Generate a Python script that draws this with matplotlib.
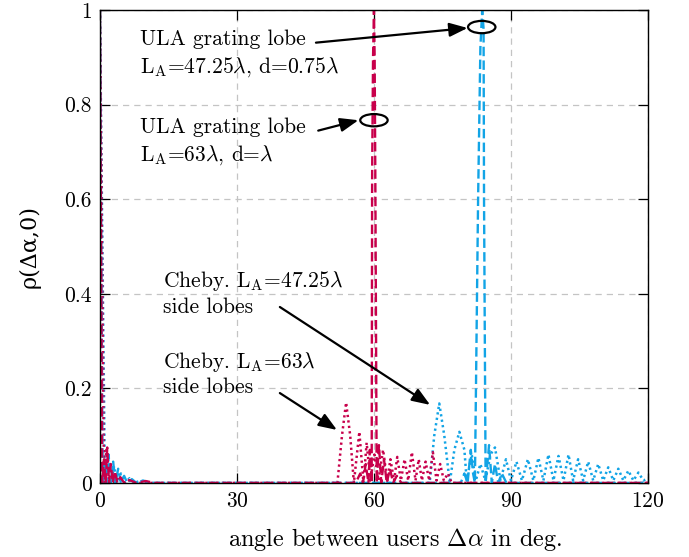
import matplotlib
matplotlib.use("Agg")
import matplotlib.pyplot as plt
from matplotlib.patches import Ellipse

plt.rcParams['font.family'] = 'serif'
plt.rcParams['font.serif'] = ['cmr10', 'DejaVu Serif']
plt.rcParams['mathtext.fontset'] = 'cm'
plt.rcParams['axes.formatter.use_mathtext'] = True

red = '#c8004b'
blue = '#12a4e6'

# ULA, L_A = 63 lambda, d = lambda
ula63_x = [0, 0.5, 0.9, 1.3, 1.6, 2.0, 2.4, 2.8, 3.3, 3.8, 4.5, 5.3, 6.5, 8, 10, 12,
           56, 57, 57.6, 58.2, 58.8, 59.1, 59.5, 59.6, 59.8, 60.0, 60.15, 60.3, 60.6,
           61.1, 61.6, 62.2, 62.8, 63.5, 64.2, 65.0, 66.0, 120]
ula63_y = [1, 0, 0.05, 0, 0.075, 0, 0.04, 0, 0.025, 0, 0.012, 0, 0.006, 0, 0.004, 0,
           0, 0.02, 0, 0.04, 0, 0.07, 0, 0.65, 0.9, 1.0, 0.9, 0.65, 0,
           0.08, 0, 0.05, 0, 0.03, 0, 0.015, 0, 0]

# ULA, L_A = 47.25 lambda, d = 0.75 lambda
ula47_x = [0, 0.6, 1.0, 1.4, 1.9, 2.4, 2.9, 3.4, 4.0, 4.6, 5.3, 6.0, 7.0, 8.0, 9.5, 11,
           79, 79.8, 80.5, 81.2, 81.7, 82.1, 82.8, 83.3, 83.7, 84.0, 84.1, 84.45,
           85.2, 85.8, 86.5, 87.2, 88.0, 89.0, 120]
ula47_y = [1, 0, 0.04, 0, 0.06, 0, 0.045, 0, 0.03, 0, 0.015, 0, 0.008, 0, 0.005, 0,
           0, 0.02, 0, 0.07, 0.02, 0, 0.6, 0.92, 1.0, 0.96, 0.6, 0,
           0.08, 0, 0.04, 0, 0.02, 0, 0]

# Chebyshev taper, L_A = 63 lambda
cheb63_x = [0, 0.9, 1.4, 2.0, 2.6, 3.2, 4.0, 5.0, 6.5, 8.0, 52.0, 53.0, 53.9, 54.8,
            55.6, 56.8, 57.7, 58.4, 59.2, 60.1, 61.0, 62.0, 62.9, 63.6, 64.4, 65.1,
            65.9, 66.7, 67.5, 68.3, 69.1, 69.8, 70.5, 71.3, 72.1, 72.9, 73.7, 74.5,
            75.3, 76.2, 77.0, 120]
cheb63_y = [1, 0, 0.07, 0, 0.03, 0, 0.012, 0, 0.005, 0, 0, 0.1, 0.17, 0.1,
            0, 0.108, 0, 0.085, 0.005, 0.06, 0.005, 0.07, 0.005, 0.05, 0.005, 0.055,
            0.005, 0.05, 0.005, 0.065, 0.005, 0.05, 0.005, 0.045, 0.005, 0.065, 0.005, 0.04,
            0.005, 0.02, 0, 0]

# Chebyshev taper, L_A = 47.25 lambda
cheb47_x = [0, 1.1, 1.7, 2.4, 3.1, 3.8, 4.6, 5.5, 6.5, 7.5, 9.0, 10.5, 72.2, 73.2,
            74.3, 75.4, 76.6, 77.6, 78.7, 79.8, 80.3, 81.4, 82.3, 83.3, 84.4, 85.5,
            86.5, 87.7, 88.9, 90.0, 91.2, 92.4, 93.7, 94.9, 96.0, 97.1, 98.2, 99.3,
            100.4, 101.5, 102.6, 103.6, 104.7, 105.8, 106.9, 108.0, 109.1, 110.2,
            111.3, 112.4, 113.5, 114.6, 115.7, 116.8, 117.9, 119.0, 120.0]
cheb47_y = [1, 0, 0.06, 0, 0.035, 0, 0.02, 0, 0.01, 0, 0.005, 0, 0, 0.1,
            0.168, 0.1, 0, 0.07, 0.108, 0.07, 0.005, 0.06, 0.005, 0.04, 0.005, 0.06,
            0.075, 0.005, 0.05, 0.005, 0.045, 0.005, 0.05, 0.005, 0.053, 0.005, 0.06, 0.005,
            0.057, 0.005, 0.06, 0.005, 0.05, 0.005, 0.045, 0.005, 0.04, 0.005,
            0.033, 0.005, 0.03, 0.005, 0.026, 0.005, 0.022, 0.005, 0.01]

fig = plt.figure(figsize=(6.89, 5.57), dpi=100)
ax = fig.add_axes([0.145, 0.133, 0.7955, 0.849])

dashed = (0, (4, 1.8))
dotted = (0, (0.9, 1.3))
ax.plot(cheb47_x, cheb47_y, color=blue, lw=1.8, linestyle=dotted)
ax.plot(cheb63_x, cheb63_y, color=red, lw=1.8, linestyle=dotted)
ax.plot(ula47_x, ula47_y, color=blue, lw=1.7, linestyle=dashed)
ax.plot(ula63_x, ula63_y, color=red, lw=1.7, linestyle=dashed)

ax.set_xlim(0, 120)
ax.set_ylim(0, 1)
ax.set_xticks([0, 30, 60, 90, 120])
ax.set_yticks([0, 0.2, 0.4, 0.6, 0.8, 1])
ax.set_yticklabels(['0', '0.2', '0.4', '0.6', '0.8', '1'])
ax.grid(True, color='#c4c4c4', linestyle=(0, (5, 4)), lw=0.9)
ax.set_axisbelow(True)
ax.tick_params(direction='in', length=7, width=0.9, top=True, right=True,
               labelsize=15.5, pad=6)
for s in ax.spines.values():
    s.set_linewidth(1.0)

ax.set_xlabel(r'angle between users $\Delta\alpha$ in deg.', fontsize=17.5)
ax.xaxis.set_label_coords(0.538, -0.12, transform=ax.transAxes)
ax.xaxis.label.set_va('center')
ax.set_ylabel('ρ(Δα,0)', fontsize=16, family=['DejaVu Serif'])
ax.yaxis.set_label_coords(-0.128, 0.5, transform=ax.transAxes)
ax.yaxis.label.set_va('center')

tsize = 15.5
ax.text(8.8, 0.958, 'ULA grating lobe\nL$_\\mathrm{A}$=47.25$\\lambda$, d=0.75$\\lambda$',
        fontsize=tsize, va='top', ha='left', linespacing=1.35)
ax.text(8.8, 0.773, 'ULA grating lobe\nL$_\\mathrm{A}$=63$\\lambda$, d=$\\lambda$',
        fontsize=tsize, va='top', ha='left', linespacing=1.35)
ax.text(13.8, 0.452, 'Cheby. L$_\\mathrm{A}$=47.25$\\lambda$\nside lobes',
        fontsize=tsize, va='top', ha='left', linespacing=1.25)
ax.text(13.8, 0.282, 'Cheby. L$_\\mathrm{A}$=63$\\lambda$\nside lobes',
        fontsize=tsize, va='top', ha='left', linespacing=1.25)

aprops = dict(arrowstyle='-|>,head_length=1.1,head_width=0.42', lw=1.6, color='k',
              shrinkA=0, shrinkB=0)
ax.annotate('', xy=(80.5, 0.962), xytext=(47.3, 0.931), arrowprops=aprops)
ax.annotate('', xy=(56.6, 0.767), xytext=(47.8, 0.745), arrowprops=aprops)
ax.annotate('', xy=(72.3, 0.165), xytext=(39.4, 0.372), arrowprops=aprops)
ax.annotate('', xy=(51.9, 0.112), xytext=(39.4, 0.19), arrowprops=aprops)

ax.add_patch(Ellipse((83.6, 0.964), 6.0, 0.026, fill=False, lw=1.6, color='k', zorder=5))
ax.add_patch(Ellipse((60.0, 0.767), 6.0, 0.026, fill=False, lw=1.6, color='k', zorder=5))

fig.savefig('out.png', dpi=100)
